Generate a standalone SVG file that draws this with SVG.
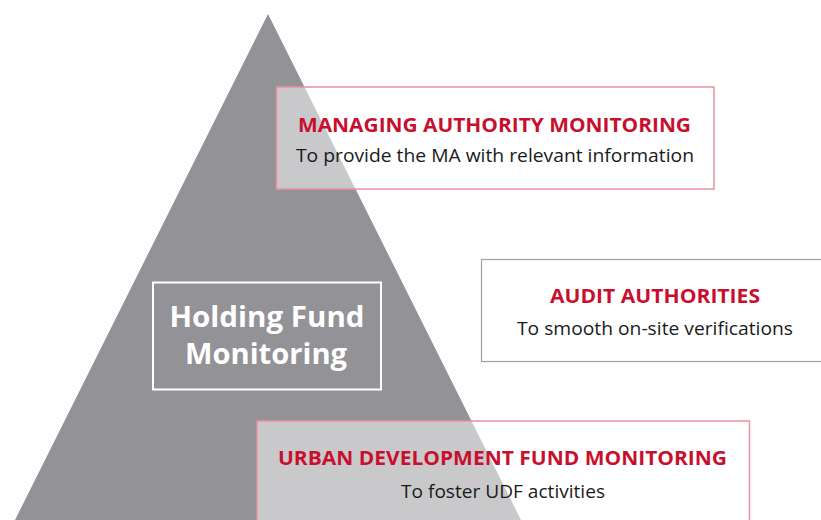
<svg xmlns="http://www.w3.org/2000/svg" width="821" height="520" viewBox="0 0 821 520">
<style>
.title{font-family:"Open Sans","Liberation Sans",sans-serif;font-weight:bold;fill:#c8102e;font-size:19.5px;text-anchor:middle}
.sub{font-family:"Open Sans","Liberation Sans",sans-serif;fill:#1a1a1a;font-size:17.5px;text-anchor:middle}
.hf{font-family:"Open Sans","Liberation Sans",sans-serif;font-weight:bold;fill:#ffffff;font-size:29px;text-anchor:middle}
.pink{fill:#ffffff;fill-opacity:0.5;stroke:#e8919f;stroke-width:1.5}
</style>
<rect width="821" height="520" fill="#ffffff"/>
<g id="pyramid">
<polygon points="268,14 521,520 15,520" fill="#939297"/>
</g>
<g id="holding-fund">
<rect x="153" y="282.5" width="228" height="107" fill="none" stroke="#ffffff" stroke-width="2"/>
<text class="hf" x="267" y="327" textLength="195" lengthAdjust="spacingAndGlyphs">Holding Fund</text>
<text class="hf" x="266" y="364" textLength="162" lengthAdjust="spacingAndGlyphs">Monitoring</text>
</g>
<g id="managing-authority">
<rect class="pink" x="276.5" y="87" width="437.5" height="102"/>
<text class="title" x="494.5" y="132" textLength="393" lengthAdjust="spacingAndGlyphs">MANAGING AUTHORITY MONITORING</text>
<text class="sub" x="495" y="162" textLength="398" lengthAdjust="spacingAndGlyphs">To provide the MA with relevant information</text>
</g>
<g id="audit-authorities">
<rect x="481.5" y="259.5" width="345" height="102" fill="#ffffff" stroke="#a0a0a0" stroke-width="1.2"/>
<text class="title" x="655" y="303" textLength="210" lengthAdjust="spacingAndGlyphs">AUDIT AUTHORITIES</text>
<text class="sub" x="655" y="335" textLength="276" lengthAdjust="spacingAndGlyphs">To smooth on-site verifications</text>
</g>
<g id="urban-development">
<rect class="pink" x="257" y="421" width="492.5" height="110"/>
<text class="title" x="502.5" y="464.5" textLength="449" lengthAdjust="spacingAndGlyphs">URBAN DEVELOPMENT FUND MONITORING</text>
<text class="sub" x="503" y="497.5" textLength="204" lengthAdjust="spacingAndGlyphs">To foster UDF activities</text>
</g>
<g id="connectors"></g>
</svg>
